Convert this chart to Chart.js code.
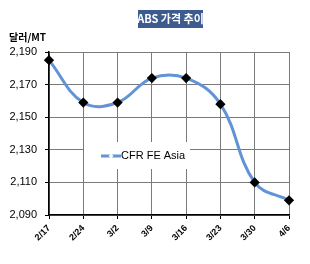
<!DOCTYPE html>
<html>
<head>
<meta charset="utf-8">
<script src="https://cdn.jsdelivr.net/npm/chart.js@4"></script>
<style>
  html, body { margin: 0; padding: 0; background: #fff; }
</style>
</head>
<body>
<canvas id="chart" width="310" height="264"></canvas>
<script>
"use strict";

const dates = ["2/17", "2/24", "3/2", "3/9", "3/16", "3/23", "3/30", "4/6"];
const cfrFeAsia = [2185, 2159, 2159, 2174, 2174, 2158, 2110, 2099];
const yTicks = [2090, 2110, 2130, 2150, 2170, 2190];
const titleText = "ABS 가격 추이";
const unitText = "달러/MT";
const seriesName = "CFR FE Asia";

const lineBlue = "#6193d6";
const gridGray = "#7a7a7a";

// title box + unit label
const headerPlugin = {
  id: "header",
  afterDraw(chart) {
    const ctx = chart.ctx;
    ctx.save();
    ctx.fillStyle = "#3d5b8f";
    ctx.fillRect(138, 10, 65, 18);
    ctx.fillStyle = "#fff";
    ctx.font = "bold 11px 'Noto Sans CJK KR', sans-serif";
    ctx.textAlign = "center";
    ctx.textBaseline = "middle";
    ctx.fillText(titleText, 170.5, 19);
    ctx.fillStyle = "#000";
    ctx.font = "bold 10px 'Noto Sans CJK KR', sans-serif";
    ctx.textAlign = "left";
    ctx.fillText(unitText, 9, 37);
    ctx.restore();
  },
};

// legend sits inside the plot, on a white box
const innerLegend = {
  id: "innerLegend",
  afterDatasetsDraw(chart) {
    const ctx = chart.ctx;
    const x = 84, y = 142;
    ctx.save();
    ctx.fillStyle = "#fff";
    ctx.fillRect(x, y, 106, 27);
    ctx.strokeStyle = lineBlue;
    ctx.lineWidth = 3;
    ctx.beginPath();
    ctx.moveTo(x + 17, y + 14);
    ctx.lineTo(x + 37, y + 14);
    ctx.stroke();
    ctx.fillStyle = "#fff";
    ctx.beginPath();
    ctx.moveTo(x + 27, y + 11.5);
    ctx.lineTo(x + 29.5, y + 14);
    ctx.lineTo(x + 27, y + 16.5);
    ctx.lineTo(x + 24.5, y + 14);
    ctx.closePath();
    ctx.fill();
    ctx.fillStyle = "#000";
    ctx.font = "11px 'Liberation Sans', Arial, sans-serif";
    ctx.textAlign = "left";
    ctx.textBaseline = "middle";
    ctx.fillText(seriesName, x + 37, y + 14);
    ctx.restore();
  },
};

new Chart(document.getElementById("chart"), {
  type: "line",
  data: {
    labels: dates,
    datasets: [
      {
        label: seriesName,
        data: cfrFeAsia,
        borderColor: lineBlue,
        borderWidth: 3,
        tension: 0.4,
        pointStyle: "rectRot",
        pointRadius: 3,
        pointBackgroundColor: "#000",
        pointBorderColor: "#000",
      },
    ],
  },
  options: {
    responsive: false,
    animation: false,
    layout: { padding: { left: 0, top: 52, right: 21, bottom: 0 } },
    plugins: {
      legend: { display: false },
      tooltip: { enabled: false },
    },
    scales: {
      x: {
        grid: { color: gridGray, lineWidth: 1, tickLength: 4, tickColor: "#000" },
        border: { color: "#000", width: 1.5 },
        ticks: {
          minRotation: 45,
          maxRotation: 45,
          autoSkip: false,
          color: "#000",
          padding: 4,
          font: { family: "'Liberation Sans', Arial, sans-serif", size: 9, weight: "bold" },
        },
        afterFit(scale) {
          scale.height = 49;
        },
      },
      y: {
        min: yTicks[0],
        max: yTicks[yTicks.length - 1],
        afterBuildTicks(scale) {
          scale.ticks = yTicks.map((v) => ({ value: v }));
        },
        grid: { color: gridGray, lineWidth: 1, tickLength: 4, tickColor: "#000" },
        border: { color: "#000", width: 1.5 },
        ticks: {
          color: "#000",
          padding: 8,
          font: { family: "'Liberation Sans', Arial, sans-serif", size: 11 },
          callback: (v) => v.toLocaleString("en-US"),
        },
        afterFit(scale) {
          scale.width = 49;
        },
      },
    },
  },
  plugins: [headerPlugin, innerLegend],
});
</script>
</body>
</html>
